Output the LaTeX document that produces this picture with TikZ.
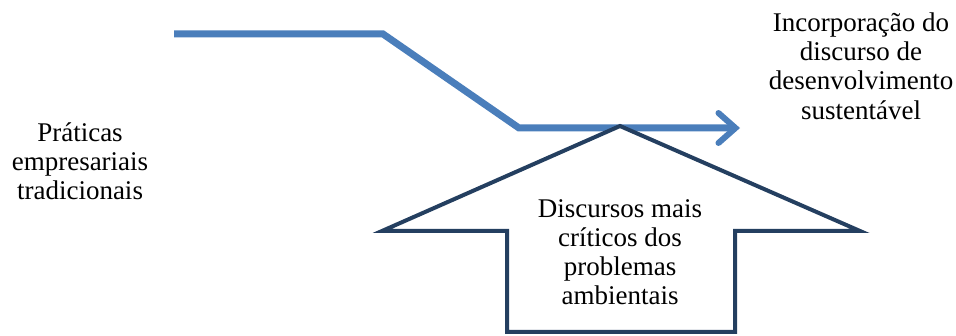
\documentclass[tikz,border=0pt]{standalone}
\usepackage{fontspec}
\setmainfont{Liberation Serif}
\usetikzlibrary{arrows.meta}
\definecolor{flowblue}{HTML}{4A7EBB}
\definecolor{pushnavy}{HTML}{243F60}
\tikzset{
  label text/.style={align=center, inner sep=0pt, font=\rmfamily\fontsize{27}{29.2}\selectfont},
  flow line/.style={draw=flowblue, line width=7pt, line join=miter,
    -{Straight Barb[length=17pt, width=30pt, line width=6pt, line cap=round]}},
  push arrow/.style={draw=pushnavy, line width=4pt, fill=white, line join=miter}
}
\begin{document}
\begin{tikzpicture}[x=1pt,y=-1pt]
  \useasboundingbox (0,0) rectangle (956,336);
  % side labels
  \node[label text] (left) at (80,161) {Práticas\\empresariais\\tradicionais};
  \node[label text] (right) at (861,66) {Incorporação do\\discurso de\\desenvolvimento\\sustentável};
  % trend line stepping down to the right
  \coordinate (start) at (174,34);
  \coordinate (bend1) at (383,34);
  \coordinate (bend2) at (519,128);
  \coordinate (tip) at (740,128);
  \draw[flow line] (start) -- (bend1) -- (bend2) -- (tip);
  % upward block arrow pushing on the line
  \draw[push arrow] (620,126) -- (860,231) -- (735,231) -- (735,332)
    -- (507,332) -- (507,231) -- (382,231) -- cycle;
  \node[label text] (push) at (620,252) {Discursos mais\\críticos dos\\problemas\\ambientais};
\end{tikzpicture}
\end{document}
